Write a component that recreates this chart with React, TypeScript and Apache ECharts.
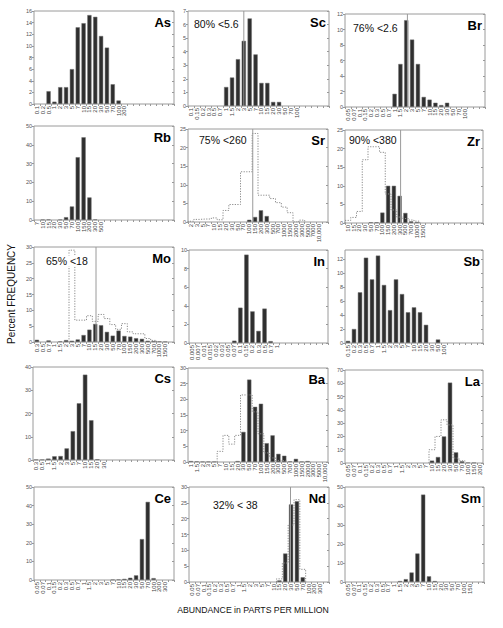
import React, { useEffect, useRef } from "react";
import * as echarts from "echarts";

// ---------------- data ----------------
const asLabels = ["0.1","0.2","0.5","1","2","3","5","7","10","15","20","30","50","70","100","200"];
const asBars = [0,0,2.2,0.4,2.9,2.9,6.0,13.2,13.9,15.3,15.0,11.7,9.7,3.4,0.6,0,0,0,0,0,0,0,0,0];

const scLabels = ["0.1","0.15","0.2","0.3","0.5","0.7","1","1.5","2","3","5","7","10","15","20","30","50","70","100"];
const scBars = [0,0,0,0,0,0,1.4,2.1,3.45,4.8,6.45,3.8,1.7,1.7,0.3,0.3,0,0,0,0,0,0,0,0];

const brLabels = ["0.05","0.07","0.1","0.15","0.2","0.3","0.5","0.7","1","1.5","2","3","5","7","10","15","20","30","50","70","100"];
const brBars = [0,0,0,0,0,0,0,0,1.7,5.55,11.2,8.7,5.55,1.3,0.95,0.55,0.25,0.55,0,0,0,0,0,0];

const rbLabels = ["7","10","15","20","30","50","70","100","150","200","300","500"];
const rbBars = [0,0.2,0.3,0,0.2,1.5,7.2,33.4,44,12,0.3,0,0,0,0,0,0,0,0,0,0,0,0,0];

const srLabels = ["2","3","5","7","10","15","20","30","50","70","100","150","200","300","500","700","1000","1500","2000","3000","5000","7000","10,000"];
const srBars = [0,0,0,0,0,0,0,0,0,0,0.6,1.35,3.15,1.6,0,0,0,0,0,0,0,0,0,0];
const srAll = [0.2,0.7,0.8,0.8,1.1,0.6,3.1,4.7,4.7,13.5,13.5,23.8,7.2,7.2,6.3,5.2,4.0,2.5,0,0.5,0,0,0,0];

const zrLabels = ["10","15","20","30","50","70","100","150","200","300","500","700","1000","1500"];
const zrBars = [0,0,0,0,0.2,0.2,2.8,10,10,7.3,2.7,0.45,0.25,0,0,0,0,0,0,0,0,0,0,0];
const zrAll = [0.7,1.5,3.1,17,20.5,20.5,19,7.8,3.5,1.6,1.2,0.8,0.5,0,0,0,0,0,0,0,0,0,0,0];

const moLabels = ["0.3","0.5","0.7","1","1.5","2","3","5","7","10","15","20","30","50","70","100","150","200","300","500","700","1000","1500"];
const moBars = [0.7,0,0.5,0,0.2,0.6,0.4,0.8,2.2,3.9,5.7,5.3,3.2,2.0,3.6,1.9,1.7,1.2,1.0,0.4,0.3,0.2,0.1,0];
const moAll = [0,0,0,0,0,0,29,6.9,6.9,8.3,6.5,8.7,7.4,5.5,4.0,5.8,3.2,2.6,2.6,1.1,0.5,0,0,0];

const inLabels = ["0.005","0.007","0.01","0.015","0.02","0.03","0.05","0.07","0.1","0.15","0.2","0.3","0.5","0.7","1"];
const inBars = [0,0,0,0,0,0,0,0.25,3.8,9.5,3.4,1.3,3.7,0.2,0,0,0,0,0,0,0,0,0];

const sbLabels = ["0.15","0.2","0.3","0.5","0.7","1","1.5","2","3","5","7","10","15","20","30","50","100"];
const sbBars = [0.3,2.0,7.25,12.2,9.1,12.5,8.3,4.7,9.1,7.0,4.4,5.1,4.4,2.6,0,0.5,0,0,0,0,0,0,0];

const csLabels = ["0.3","0.5","1","1.5","2","3","5","7","10","15","20","30"];
const csBars = [0.2,0.2,0.6,1.6,1.7,5.0,12.4,24.4,36.7,17.1,0.3,0,0,0,0,0,0,0,0,0,0,0,0];

const baLabels = ["1","1.5","2","3","5","7","10","15","20","30","50","70","100","150","200","300","500","700","1000","1500","2000","3000","5000","10,000"];
const baBars = [0.3,0.2,0.1,0.1,0.1,0,0,0,0.3,9.6,26.3,17.6,18.6,6.0,8.5,2.6,2.0,0.2,1.0,0.1,0.3,0,0,0];
const baAll = [0,0,0,0,0,3.4,8.5,5.7,8.5,21.4,21.4,16,9,2.9,1.3,0.5,0.3,0,0,0,0,0,0,0];

const laLabels = ["0.05","0.07","0.1","0.15","0.2","0.3","0.5","0.7","1","1.5","2","3","5","7","10","15","20","30","50","70","100","150","200"];
const laBars = [0,0,0,0,0,0,0,0,0,0,0,0,0,0,1.8,4.5,20,60.5,8,1.3,0.3,0.2,0];
const laAll = [0,0,0,0,0,0,0,0,0,0,0,0,0,0,10,20,32.5,28.7,3.7,1.7,0,0,0];

const ceLabels = ["0.05","0.07","0.1","0.15","0.2","0.3","0.5","0.7","1","1.5","2","3","5","7","10","15","20","30","50","70","100","200","300"];
const ceBars = [0,0,0,0,0,0,0,0,0,0,0,0,0,0.2,0.3,0.6,1.2,2.5,22,42,1.0,0,0,0];

const ndLabels = ["0.05","0.07","0.1","0.15","0.2","0.3","0.5","0.7","1","1.5","2","3","5","7","10","15","20","30","50","70","100","200","300"];
const ndBars = [0,0,0,0,0,0,0,0,0,0,0,0,0,0,0,0.5,9,24.5,25.5,1.5,0,0,0,0];
const ndAll = [0,0,0,0,0,0,0,0,0,0,0,0,0,0,0,1,6,18,26,4,0,0,0,0];

const smLabels = ["0.05","0.07","0.1","0.15","0.2","0.3","0.5","0.7","1","1.5","2","3","5","7","10","15","20","30","50","70","100","150"];
const smBars = [0,0,0,0,0,0,0,0,0,0.5,1.5,5,15,46,3,0.5,0,0,0,0,0,0,0,0];

const elementNames = ["As","Sc","Br","Rb","Sr","Zr","Mo","In","Sb","Cs","Ba","La","Ce","Nd","Sm"];
const yMaxes = [16, 7, 12, 50, 25, 25, 30, 10, 13.3, 40, 30, 70, 50, 30, 50];
const ySteps = [2, 1, 2, 10, 5, 5, 5, 2, 2, 10, 5, 10, 10, 5, 10];

// detection-limit notes: text and position of the limit along the bins
const noteTexts = { Sc: "80% <5.6", Br: "76% <2.6", Sr: "75% <260", Zr: "90% <380", Mo: "65% <18", Nd: "32% < 38" };
const noteLimits = { Sc: 9.5, Br: 10.7, Sr: 11.1, Zr: 9.67, Mo: 10.63, Nd: 17.4 };

// ---------------- layout ----------------
const rects: number[][] = [
  [34, 11, 140, 93], [188, 11, 141, 95], [345, 14, 140, 93],
  [34, 126, 140, 94], [188, 129, 140, 93], [345, 130, 138, 93],
  [34, 247, 140, 95], [189, 250, 139, 93], [345, 250, 138, 93],
  [33, 367, 141, 93], [188, 368, 140, 94], [345, 370, 138, 93],
  [34, 487, 140, 93], [189, 487, 140, 95], [345, 487, 139, 95],
];
const notePos: Record<string, number[]> = {
  Sc: [193, 24], Br: [352, 28], Sr: [198, 140], Zr: [348, 140], Mo: [45, 261], Nd: [212, 505],
};

const panels: any[] = [
  { labels: asLabels, bars: asBars },
  { labels: scLabels, bars: scBars },
  { labels: brLabels, bars: brBars },
  { labels: rbLabels, bars: rbBars },
  { labels: srLabels, bars: srBars, all: srAll },
  { labels: zrLabels, bars: zrBars, all: zrAll },
  { labels: moLabels, bars: moBars, all: moAll },
  { labels: inLabels, bars: inBars },
  { labels: sbLabels, bars: sbBars },
  { labels: csLabels, bars: csBars },
  { labels: baLabels, bars: baBars, all: baAll },
  { labels: laLabels, bars: laBars, all: laAll },
  { labels: ceLabels, bars: ceBars },
  { labels: ndLabels, bars: ndBars, all: ndAll },
  { labels: smLabels, bars: smBars },
];

const FONT = '"Liberation Sans", Arial, Helvetica, sans-serif';

function stepPoints(vals: number[]) {
  let f = -1, l = -1;
  vals.forEach((v, k) => { if (v > 0) { if (f < 0) f = k; l = k; } });
  if (f < 0) return [];
  const pts: number[][] = [[f, 0]];
  for (let k = f; k <= l; k++) pts.push([k, vals[k]]);
  pts.push([l + 1, vals[l]]);
  pts.push([l + 1, 0]);
  return pts;
}

function buildOption() {
  const option: any = {
    animation: false,
    backgroundColor: "#ffffff",
    grid: [], xAxis: [], yAxis: [], series: [], graphic: [],
  };
  panels.forEach((p, i) => {
    const [l, t, w, h] = rects[i];
    const n = p.bars.length;
    const name = elementNames[i];
    const cats = p.bars.map((_: number, k: number) => (p.labels[k] !== undefined ? p.labels[k] : ""));
    option.grid.push({ left: l, top: t, width: w, height: h, show: true, borderColor: "#9a9a9a", borderWidth: 1, backgroundColor: "transparent" });
    option.xAxis.push({
      type: "category", gridIndex: i, data: cats, position: "bottom",
      axisLine: { show: false },
      axisTick: { show: true, interval: 0, length: 2, lineStyle: { color: "#999" } },
      axisLabel: { interval: 0, rotate: 90, fontSize: 6, margin: 2, color: "#444", fontFamily: FONT },
      splitLine: { show: false },
    });
    option.xAxis.push({
      type: "category", gridIndex: i, data: cats, position: "top",
      axisLine: { show: false },
      axisTick: { show: true, inside: true, interval: 0, length: 2, lineStyle: { color: "#999" } },
      axisLabel: { show: false }, splitLine: { show: false },
    });
    option.xAxis.push({ type: "value", gridIndex: i, min: 0, max: n, show: false });
    option.yAxis.push({
      type: "value", gridIndex: i, min: 0, max: yMaxes[i], interval: ySteps[i],
      axisLine: { show: false },
      axisTick: { show: true, length: 2, lineStyle: { color: "#999" } },
      axisLabel: { fontSize: 5.5, margin: 2, color: "#555", fontFamily: FONT, showMaxLabel: yMaxes[i] % ySteps[i] === 0 },
      splitLine: { show: false },
    });
    option.yAxis.push({
      type: "value", gridIndex: i, position: "right", min: 0, max: yMaxes[i], interval: ySteps[i],
      axisLine: { show: false },
      axisTick: { show: true, inside: true, length: 2, lineStyle: { color: "#999" } },
      axisLabel: { show: false }, splitLine: { show: false },
    });
    option.series.push({
      type: "bar", xAxisIndex: 3 * i, yAxisIndex: 2 * i, silent: true,
      data: p.bars.map((v: number) => (v > 0 ? v : "-")),
      barWidth: "72%",
      itemStyle: { color: "#2f2f2f", borderColor: "#6e6e6e", borderWidth: 0.5 },
      z: 2,
    });
    if (p.all) {
      option.series.push({
        type: "line", xAxisIndex: 3 * i + 2, yAxisIndex: 2 * i, silent: true,
        data: stepPoints(p.all), step: "end", symbol: "none",
        lineStyle: { color: "#8a8a8a", width: 1, type: [1.2, 1.4] },
        z: 3,
      });
    }
    const lim = (noteLimits as any)[name];
    if (lim !== undefined) {
      option.series.push({
        type: "line", xAxisIndex: 3 * i + 2, yAxisIndex: 2 * i, silent: true,
        data: [[lim, 0], [lim, yMaxes[i]]], symbol: "none",
        lineStyle: { color: "#9a9a9a", width: 1 },
        z: 4,
      });
    }
    const note = (noteTexts as any)[name];
    if (note) {
      const [nx, ny] = notePos[name];
      option.graphic.push({
        type: "text", x: nx, y: ny, z: 100,
        style: {
          text: note, fill: "#111", fontSize: 10.5, fontFamily: FONT,
          align: "left", verticalAlign: "middle", textAlign: "left", textVerticalAlign: "middle",
          backgroundColor: "#ffffff", padding: [0, 1],
        },
      });
    }
    option.graphic.push({
      type: "text", x: l + w - 3, y: t + 11, z: 100,
      style: {
        text: name, fill: "#000", fontSize: 13, fontWeight: "bold", fontFamily: FONT,
        align: "right", verticalAlign: "middle", textAlign: "right", textVerticalAlign: "middle",
      },
    });
  });
  option.graphic.push({
    type: "text", x: 11, y: 294, rotation: Math.PI / 2, z: 100,
    style: {
      text: "Percent FREQUENCY", fill: "#111", fontSize: 10, fontFamily: FONT,
      align: "center", verticalAlign: "middle", textAlign: "center", textVerticalAlign: "middle",
    },
  });
  option.graphic.push({
    type: "text", x: 253, y: 610, z: 100,
    style: {
      text: "ABUNDANCE in PARTS PER MILLION", fill: "#111", fontSize: 8.7, fontFamily: FONT,
      align: "center", verticalAlign: "middle", textAlign: "center", textVerticalAlign: "middle",
    },
  });
  return option;
}

export default function App() {
  const ref = useRef<HTMLDivElement>(null);
  useEffect(() => {
    if (!ref.current) return;
    const chart = echarts.init(ref.current, undefined, { renderer: "svg" });
    chart.setOption(buildOption());
    return () => chart.dispose();
  }, []);
  return (
    <div
      ref={ref}
      style={{ position: "absolute", left: 0, top: 0, width: 503, height: 628, background: "#fff" }}
    />
  );
}
